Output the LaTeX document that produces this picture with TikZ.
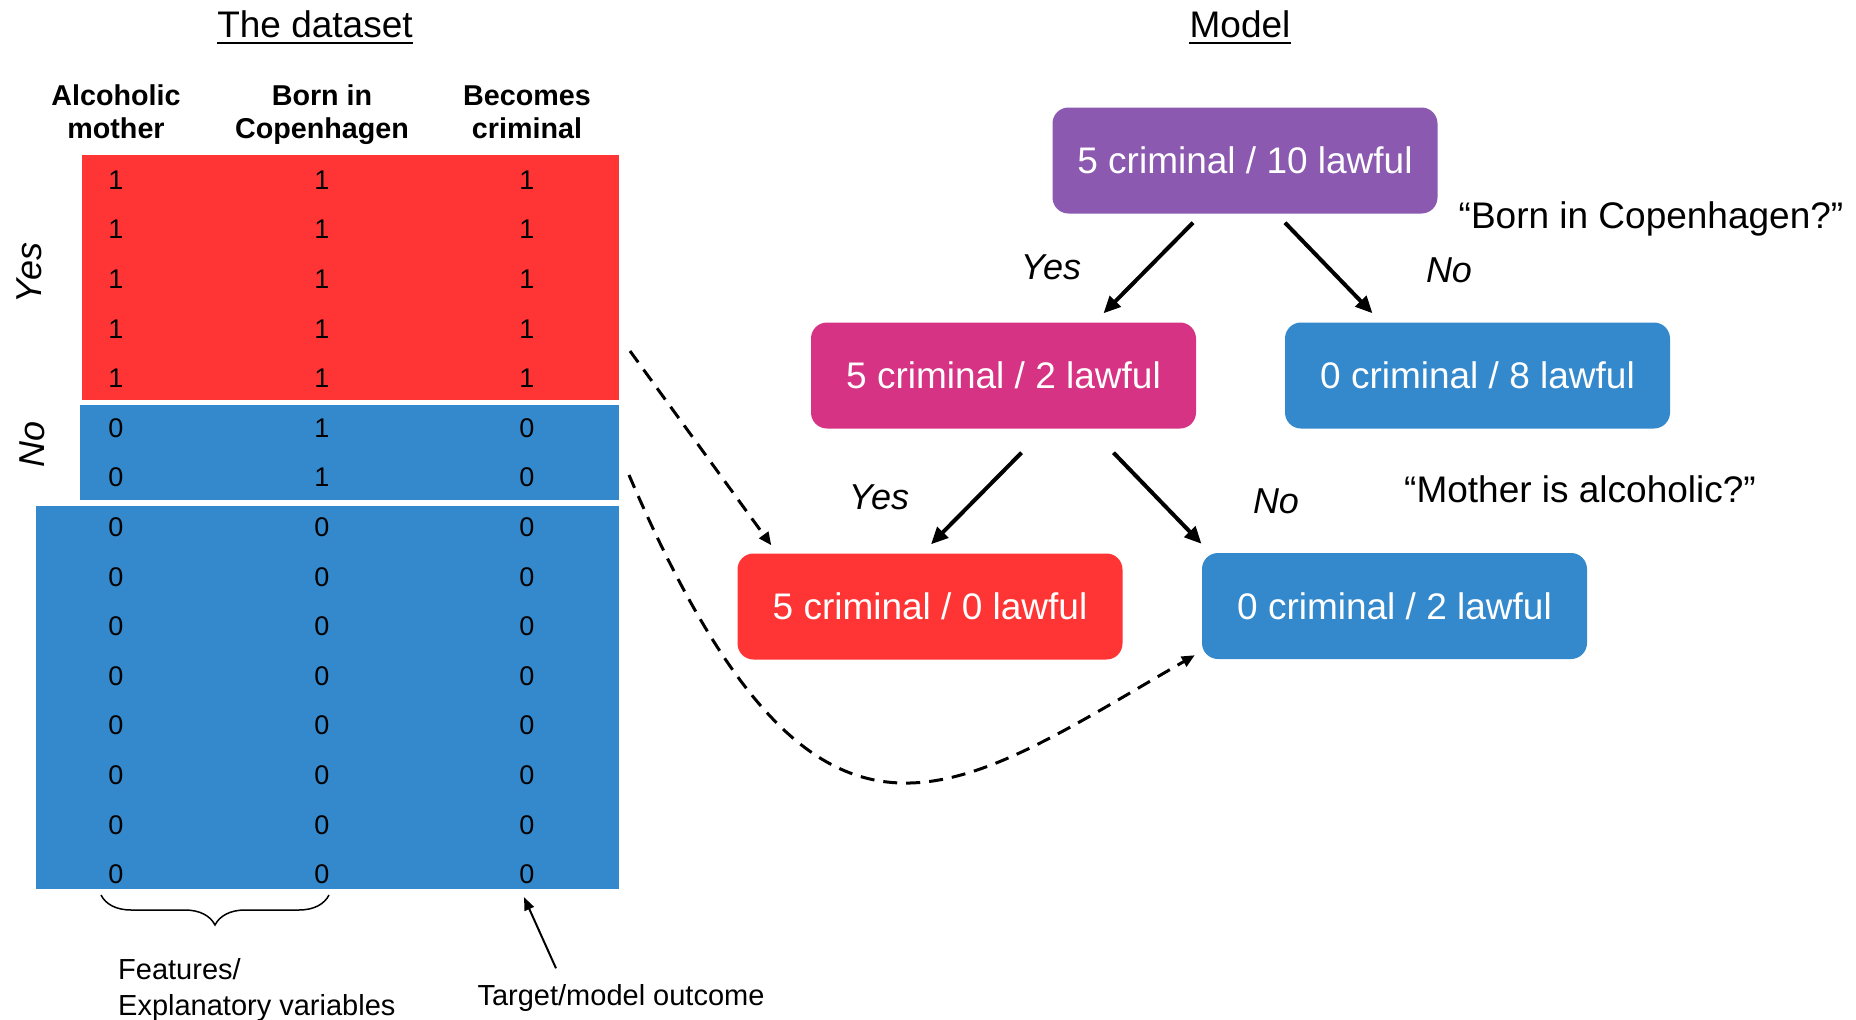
\documentclass[tikz,border=0pt]{standalone}
\usepackage{fontspec}
\setmainfont{Liberation Sans}
\usetikzlibrary{arrows.meta,calc,decorations.pathreplacing}
\definecolor{tabred}{RGB}{255,52,52}
\definecolor{tabblue}{RGB}{52,137,204}
\definecolor{treepurple}{RGB}{139,89,176}
\definecolor{treepink}{RGB}{214,51,132}

\begin{document}
\begin{tikzpicture}
	[x=1pt,y=-1pt,every node/.style={inner sep=0pt},
	box/.style={rounded corners=16pt,minimum width=385pt,minimum height=106pt,text=white,font=\fontsize{37}{44}\selectfont},
	cell/.style={font=\fontsize{27}{32}\selectfont},
	head/.style={anchor=base,font=\bfseries\fontsize{28.7}{34}\selectfont},
	ans/.style={font=\itshape\fontsize{36}{43}\selectfont},
	quest/.style={font=\fontsize{37}{44}\selectfont},
	note/.style={font=\fontsize{29}{36}\selectfont,align=left},
	split/.style={line width=4pt,-{Triangle[length=17pt,width=15pt]}},
	route/.style={line width=3pt,dash pattern=on 14pt off 9pt,-{Triangle[length=13pt,width=11pt]}}]
	\useasboundingbox (0,0) rectangle (1856,1020);
	
	% the dataset
	\node[anchor=base,font=\fontsize{37}{44}\selectfont] (ttl1) at (315,37) {The dataset};
	\node[anchor=base,font=\fontsize{37}{44}\selectfont] (ttl2) at (1240,37) {Model};
	\draw[line width=2.5pt] ($(ttl1.base west)+(0,6)$) -- ($(ttl1.base east)+(0,6)$);
	\draw[line width=2.5pt] ($(ttl2.base west)+(0,6)$) -- ($(ttl2.base east)+(0,6)$);
	
	\node[head] (ha1) at (116,105) {Alcoholic};
	\node[head] (ha2) at (116,138) {mother};
	\node[head] (hb1) at (322,105) {Born in};
	\node[head] (hb2) at (322,138) {Copenhagen};
	\node[head] (hc1) at (527,105) {Becomes};
	\node[head] (hc2) at (527,138) {criminal};
	
	\fill[tabred] (82,155) rectangle (619,400);
	\fill[tabblue] (80,405) rectangle (619,500);
	\fill[tabblue] (36,506) rectangle (619,889);
	
	\foreach \a/\b/\c [count=\i from 0] in {1/1/1,1/1/1,1/1/1,1/1/1,1/1/1,0/1/0,0/1/0,0/0/0,0/0/0,0/0/0,0/0/0,0/0/0,0/0/0,0/0/0,0/0/0}
	{
		\node[cell] (a\i) at (116,180+49.6*\i) {\a};
		\node[cell] (b\i) at (322,180+49.6*\i) {\b};
		\node[cell] (c\i) at (527,180+49.6*\i) {\c};
	}
	
	\node[ans,rotate=90] (yesrows) at (29,273) {Yes};
	\node[ans,rotate=90] (norows) at (32,444) {No};
	
	\draw[line width=1.5pt,decorate,decoration={brace,mirror,amplitude=30pt}] (101,895) -- (329,895);
	\node[note,anchor=west] (feat) at (118,990) {Features/\\Explanatory variables};
	\node[note] (target) at (621,998) {Target/model outcome};
	\draw[line width=2pt,-{Triangle[length=13pt,width=10pt]}] ($(target.north)+(-65,-16)$) -- ($(c14.south)+(-3,13)$);
	
	% model
	\node[box,fill=treepurple] (root) at (1245,160.5) {5 criminal / 10 lawful};
	\node[box,fill=treepink] (left) at (1003.5,375.5) {5 criminal / 2 lawful};
	\node[box,fill=tabblue] (right) at (1477.5,375.5) {0 criminal / 8 lawful};
	\node[box,fill=tabred] (leafyes) at (930,606.5) {5 criminal / 0 lawful};
	\node[box,fill=tabblue] (leafno) at (1394.5,606) {0 criminal / 2 lawful};
	
	\node[quest] (q1) at (1651,219) {“Born in Copenhagen?”};
	\node[quest] (q2) at (1580,489) {“Mother is alcoholic?”};
	
	\node[ans] (y1) at (1051,267) {Yes};
	\node[ans] (n1) at (1449,270) {No};
	\node[ans] (y2) at (879,497) {Yes};
	\node[ans] (n2) at (1276,501) {No};
	
	\draw[split] ($(root.south)+(-52,9)$) -- ($(left.north)+(100,-9)$);
	\draw[split] ($(root.south)+(40,9)$) -- ($(right.north)+(-105,-9)$);
	\draw[split] ($(left.south)+(18,24)$) -- ($(leafyes.north)+(1,-9)$);
	\draw[split] ($(left.south)+(110,24)$) -- ($(leafno.north)+(-193,-9)$);
	
	\coordinate (fromyes) at (630,351);
	\coordinate (fromno) at (629,475);
	\draw[route] (fromyes) -- ($(leafyes.north west)+(34,-8)$);
	\draw[route] (fromno) .. controls (816,910) and (949,797) .. ($(leafno.south west)+(-7,-4)$);
\end{tikzpicture}
\end{document}
